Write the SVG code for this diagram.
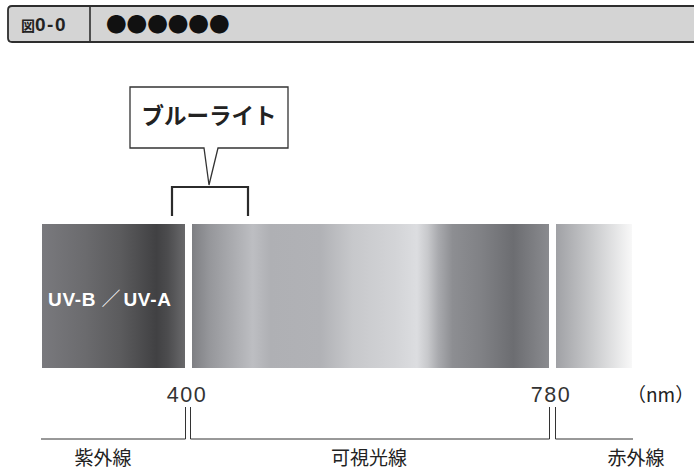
<svg xmlns="http://www.w3.org/2000/svg" width="694" height="469" viewBox="0 0 694 469">
<defs>
<style>
.hdr{fill:#d4d4d4;stroke:#2e2e2e;stroke-width:1.8}
.ln{stroke:#333;stroke-width:1;fill:none}
.num{font-family:"Liberation Sans","Noto Sans",sans-serif;font-size:21.5px;fill:#333;letter-spacing:1.6px}
.jp{font-family:"Noto Sans CJK JP",sans-serif;font-size:19px;fill:#222}
</style>
<linearGradient id="gUV" x1="0" y1="0" x2="1" y2="0">
<stop offset="0" stop-color="#79797d"/>
<stop offset="0.3" stop-color="#6b6b6e"/>
<stop offset="0.55" stop-color="#5b5b5d"/>
<stop offset="0.8" stop-color="#414143"/>
<stop offset="0.88" stop-color="#4c4c4e"/>
<stop offset="1" stop-color="#69696b"/>
</linearGradient>
<linearGradient id="gVis" x1="0" y1="0" x2="1" y2="0">
<stop offset="0" stop-color="#7e7f83"/>
<stop offset="0.05" stop-color="#96979b"/>
<stop offset="0.15" stop-color="#b6b7bb"/>
<stop offset="0.17" stop-color="#bdbec2"/>
<stop offset="0.22" stop-color="#afb0b4"/>
<stop offset="0.36" stop-color="#b1b2b6"/>
<stop offset="0.45" stop-color="#c7c8cb"/>
<stop offset="0.57" stop-color="#d3d4d7"/>
<stop offset="0.63" stop-color="#dcdde0"/>
<stop offset="0.66" stop-color="#c8c9cc"/>
<stop offset="0.69" stop-color="#a9aaae"/>
<stop offset="0.73" stop-color="#8d8e92"/>
<stop offset="0.81" stop-color="#808185"/>
<stop offset="0.9" stop-color="#6c6d71"/>
<stop offset="1" stop-color="#8a8b8f"/>
</linearGradient>
<linearGradient id="gIR" x1="0" y1="0" x2="1" y2="0">
<stop offset="0" stop-color="#a0a1a5"/>
<stop offset="0.5" stop-color="#cbccce"/>
<stop offset="1" stop-color="#f8f8f8"/>
</linearGradient>
</defs>

<g id="header">
<path class="hdr" d="M700,6 H12 Q8,6 8,10 V38 Q8,42 12,42 H700"/>
<line x1="90" y1="6" x2="90" y2="42" stroke="#2e2e2e" stroke-width="1.6"/>
<text x="21" y="31" font-family="'Liberation Sans','Noto Sans CJK JP',sans-serif" font-weight="bold" fill="#222"><tspan font-size="14" font-family="'Noto Sans CJK JP',sans-serif">図</tspan><tspan font-size="19" letter-spacing="1.5">0-0</tspan></text>
<text x="106" y="31.5" font-family="'Noto Sans CJK JP',sans-serif" font-size="20.6" fill="#111">●●●●●●</text>
</g>

<g id="bluelight">
<path d="M130,87 H288 V148 H218 L209,185 L204,148 H130 Z" fill="#fff" stroke="#333" stroke-width="1.3"/>
<text x="209" y="123.5" text-anchor="middle" font-family="'Noto Sans CJK JP',sans-serif" font-weight="bold" font-size="22.5" fill="#222">ブルーライト</text>
</g>

<g id="connectors">
<path d="M172,216 V187 H248 V216" fill="none" stroke="#2b2b2b" stroke-width="2.2"/>
<line class="ln" x1="41" y1="439" x2="185.5" y2="439"/>
<line class="ln" x1="185.5" y1="407" x2="185.5" y2="439"/>
<line class="ln" x1="190.5" y1="407" x2="190.5" y2="439"/>
<line class="ln" x1="190.5" y1="439" x2="549.5" y2="439"/>
<line class="ln" x1="549.5" y1="407" x2="549.5" y2="439"/>
<line class="ln" x1="555.5" y1="407" x2="555.5" y2="439"/>
<line class="ln" x1="555.5" y1="439" x2="633" y2="439"/>
</g>

<g id="uv">
<rect x="42" y="224" width="143" height="144" fill="url(#gUV)"/>
<text x="48" y="305.5" font-family="'Liberation Sans','Noto Sans CJK JP',sans-serif" font-size="19" fill="#fff"><tspan font-weight="bold" letter-spacing="0.7">UV-B</tspan><tspan font-family="'Noto Sans CJK JP',sans-serif" font-weight="300" dx="1"> ／</tspan><tspan font-weight="bold" letter-spacing="0.7" dx="3">UV-A</tspan></text>
</g>
<g id="visible">
<rect x="192" y="224" width="357" height="144" fill="url(#gVis)"/>
</g>
<g id="ir">
<rect x="556" y="224" width="76" height="144" fill="url(#gIR)"/>
</g>

<g id="scale">
<text class="num" x="187" y="401.5" text-anchor="middle">400</text>
<text class="num" x="551" y="401.5" text-anchor="middle">780</text>
<text class="jp" x="627" y="401.5" font-size="19.5">（nm）</text>
</g>

<g id="labels">
<text class="jp" x="103" y="464.5" text-anchor="middle">紫外線</text>
<text class="jp" x="369" y="464.5" text-anchor="middle">可視光線</text>
<text class="jp" x="636" y="464.5" text-anchor="middle">赤外線</text>
</g>
</svg>
